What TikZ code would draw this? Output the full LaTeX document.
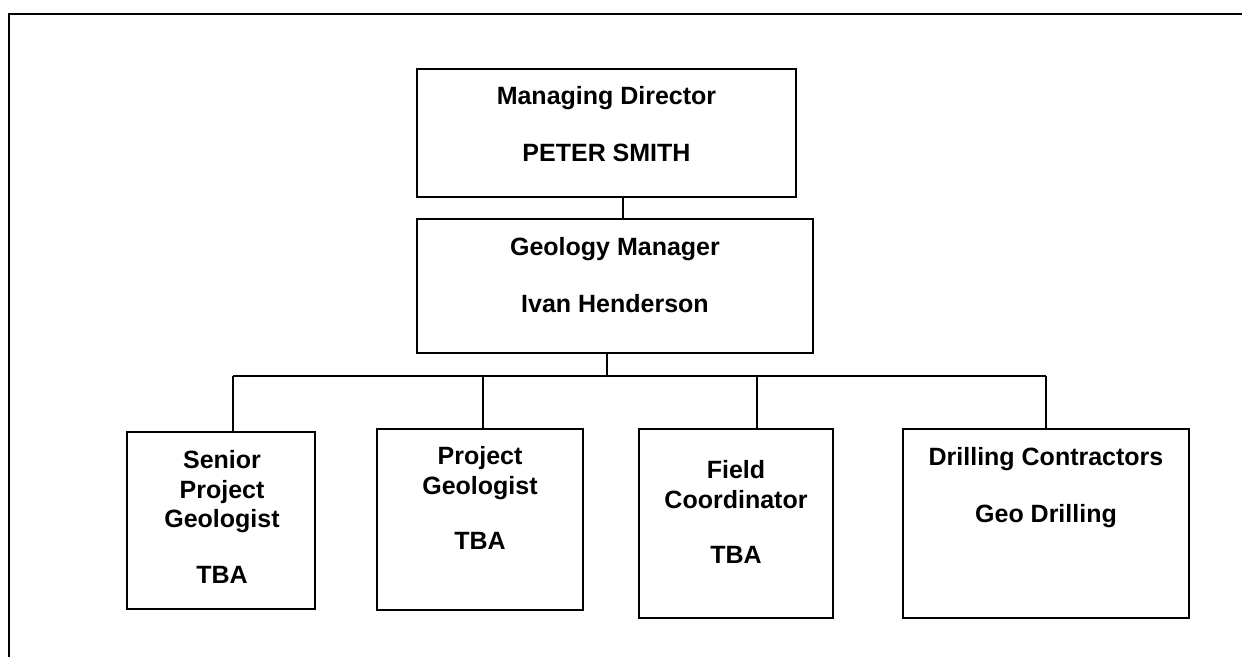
\documentclass[tikz,border=0pt]{standalone}
\usepackage{fontspec}
\setmainfont{Liberation Sans}
\begin{document}
\begin{tikzpicture}[x=1pt, y=-1pt, line width=1.5pt,
  box/.style={draw, rectangle, inner sep=0pt},
  txt/.style={anchor=north, align=center, inner sep=0pt, font=\bfseries\fontsize{25}{29.5}\selectfont}]
\useasboundingbox (0,0) rectangle (1242,657);
\draw (1242,14) -- (9,14) -- (9,657);

\node[box, minimum width=379pt, minimum height=128pt] (md) at (606.5,133) {};
\node[box, minimum width=396pt, minimum height=134pt] (gm) at (615,286) {};
\node[box, minimum width=188pt, minimum height=177pt] (sen) at (221,520.5) {};
\node[box, minimum width=206pt, minimum height=181pt] (prj) at (480,519.5) {};
\node[box, minimum width=194pt, minimum height=189pt] (fld) at (736,523.5) {};
\node[box, minimum width=286pt, minimum height=189pt] (drl) at (1046,523.5) {};

\node[txt] (mdt) at (606.5,86) {Managing Director\\[27pt]PETER SMITH};
\node[txt] (gmt) at (615,237) {Geology Manager\\[27pt]Ivan Henderson};
\node[txt] (sent) at (222,450) {Senior\\Project\\Geologist\\[26pt]TBA};
\node[txt] (prjt) at (480,446) {Project\\Geologist\\[26pt]TBA};
\node[txt] (fldt) at (736,460) {Field\\Coordinator\\[26pt]TBA};
\node[txt] (drlt) at (1046,447) {Drilling Contractors\\[27pt]Geo Drilling};

\coordinate (mdgm) at (623,0);
\coordinate (bus) at (607,376);
\coordinate (busa) at (233,376);
\coordinate (busb) at (483,376);
\coordinate (busc) at (757,376);
\coordinate (busd) at (1046,376);

\draw (md.south -| mdgm) -- (gm.north -| mdgm);
\draw (gm.south -| bus) -- (bus);
\draw (busa) -- (busd);
\draw (busa) -- (sen.north -| busa);
\draw (busb) -- (prj.north -| busb);
\draw (busc) -- (fld.north -| busc);
\draw (busd) -- (drl.north -| busd);
\end{tikzpicture}
\end{document}
